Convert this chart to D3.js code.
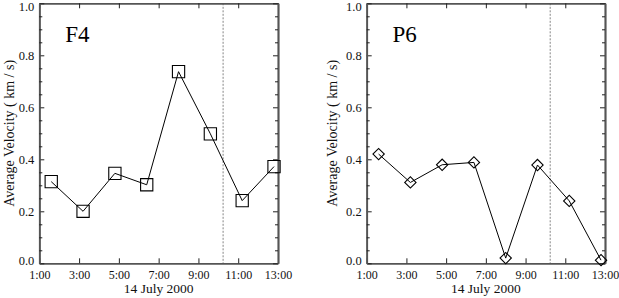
<!DOCTYPE html>
<html><head><meta charset="utf-8">
<script src="https://cdn.jsdelivr.net/npm/d3@7/dist/d3.min.js"></script>
<style>body{margin:0;background:#fff}svg{display:block}</style>
</head><body><svg id="c" width="619" height="298"></svg>
<script>
// Data
const timesHours = [1.6, 3.2, 4.8, 6.4, 8.0, 9.6, 11.2, 12.8];
const f4Values = [0.314, 0.200, 0.346, 0.302, 0.737, 0.498, 0.241, 0.372];
const p6Values = [0.420, 0.311, 0.379, 0.388, 0.020, 0.378, 0.240, 0.012];
const eventHour = 10.24;
const xTickHours = [1, 3, 5, 7, 9, 11, 13];
const xTickLabels = ["1:00", "3:00", "5:00", "7:00", "9:00", "11:00", "13:00"];
const yTickValues = [0.0, 0.2, 0.4, 0.6, 0.8, 1.0];
const panelNames = ["F4", "P6"];
const xTitle = "14 July 2000";
const yTitle = "Average Velocity ( km / s)";

(function () {
const svg = d3.select("#c");
const font = "'Liberation Serif', 'DejaVu Serif', serif";
const panels = [
  {name: panelNames[0], values: f4Values, marker: "square", left: 39.3, right: 278, titleX: 9},
  {name: panelNames[1], values: p6Values, marker: "diamond", left: 366.7, right: 605, titleX: 332}
];
const plotTop = 3.3, plotBottom = 263.3;
const axisColor = "#555";

panels.forEach(p => {
  const x = d3.scaleLinear().domain([1, 13]).range([p.left, p.right]);
  const y = d3.scaleLinear().domain([0, 1]).range([plotBottom, plotTop]);
  const g = svg.append("g");

  g.append("line").attr("x1", x(eventHour)).attr("x2", x(eventHour))
    .attr("y1", plotTop).attr("y2", plotBottom)
    .attr("stroke", "#666").attr("stroke-width", 0.8).attr("stroke-dasharray", "2,1.5");

  const fmt = d => xTickLabels[xTickHours.indexOf(d)];
  const xb = g.append("g").attr("transform", `translate(0,${plotBottom})`)
    .call(d3.axisBottom(x).tickValues(xTickHours).tickFormat(fmt).tickSizeInner(-5).tickSizeOuter(0).tickPadding(16));
  const xt = g.append("g").attr("transform", `translate(0,${plotTop})`)
    .call(d3.axisTop(x).tickValues(xTickHours).tickFormat("").tickSizeInner(-5).tickSizeOuter(0));
  const minor = d3.range(0, 1.0001, 0.05).filter(v => Math.abs(v*5 - Math.round(v*5)) > 1e-6);
  const yl = g.append("g").attr("transform", `translate(${p.left},0)`)
    .call(d3.axisLeft(y).tickValues(yTickValues).tickFormat(d3.format(".1f")).tickSizeInner(-5).tickSizeOuter(0).tickPadding(5));
  const ylm = g.append("g").attr("transform", `translate(${p.left},0)`)
    .call(d3.axisLeft(y).tickValues(minor).tickFormat("").tickSizeInner(-3).tickSizeOuter(0));
  const yr = g.append("g").attr("transform", `translate(${p.right},0)`)
    .call(d3.axisRight(y).tickValues(yTickValues).tickFormat("").tickSizeInner(-5).tickSizeOuter(0));
  const yrm = g.append("g").attr("transform", `translate(${p.right},0)`)
    .call(d3.axisRight(y).tickValues(minor).tickFormat("").tickSizeInner(-3).tickSizeOuter(0));
  [xb, xt, yl, ylm, yr, yrm].forEach(a => {
    a.select(".domain").attr("stroke", axisColor).attr("stroke-width", 1.7);
    a.selectAll(".tick line").attr("stroke", "#222").attr("stroke-width", 1);
    a.selectAll("text").attr("font-family", font).attr("fill", "#111");
  });
  xb.selectAll("text").attr("font-size", 12).attr("dy", "0");
  yl.selectAll("text").attr("font-size", 12.5)
    .attr("dy", d => d === 0 ? "0.12em" : (d === 1 ? "0.54em" : "0.33em"));

  const line = d3.line().x((d, i) => x(timesHours[i])).y(d => y(d));
  g.append("path").datum(p.values).attr("d", line)
    .attr("fill", "none").attr("stroke", "#000").attr("stroke-width", 1);

  const sym = p.marker === "square"
    ? d3.symbol().type(d3.symbolSquare).size(150)
    : d3.symbol().type(d3.symbolSquare).size(64);
  g.selectAll("path.m").data(p.values).enter().append("path").attr("class", "m")
    .attr("d", sym)
    .attr("transform", (d, i) => `translate(${x(timesHours[i])},${y(d)})` + (p.marker === "diamond" ? " rotate(45)" : ""))
    .attr("fill", "none").attr("stroke", "#000").attr("stroke-width", 1.1);

  g.append("text").attr("x", x(2.3)).attr("y", y(0.85))
    .attr("font-family", font).attr("font-size", 23).attr("fill", "#000").text(p.name);

  g.append("text").attr("x", (p.left + p.right) / 2).attr("y", 293)
    .attr("text-anchor", "middle").attr("font-family", font).attr("font-size", 13.5).attr("fill", "#111").text(xTitle);
  g.append("text").attr("transform", `translate(${p.titleX},${(plotTop + plotBottom) / 2}) rotate(-90)`)
    .attr("text-anchor", "middle").attr("dy", "0.35em").attr("font-family", font).attr("font-size", 14).attr("fill", "#111").text(yTitle);
});
})();
</script></body></html>
